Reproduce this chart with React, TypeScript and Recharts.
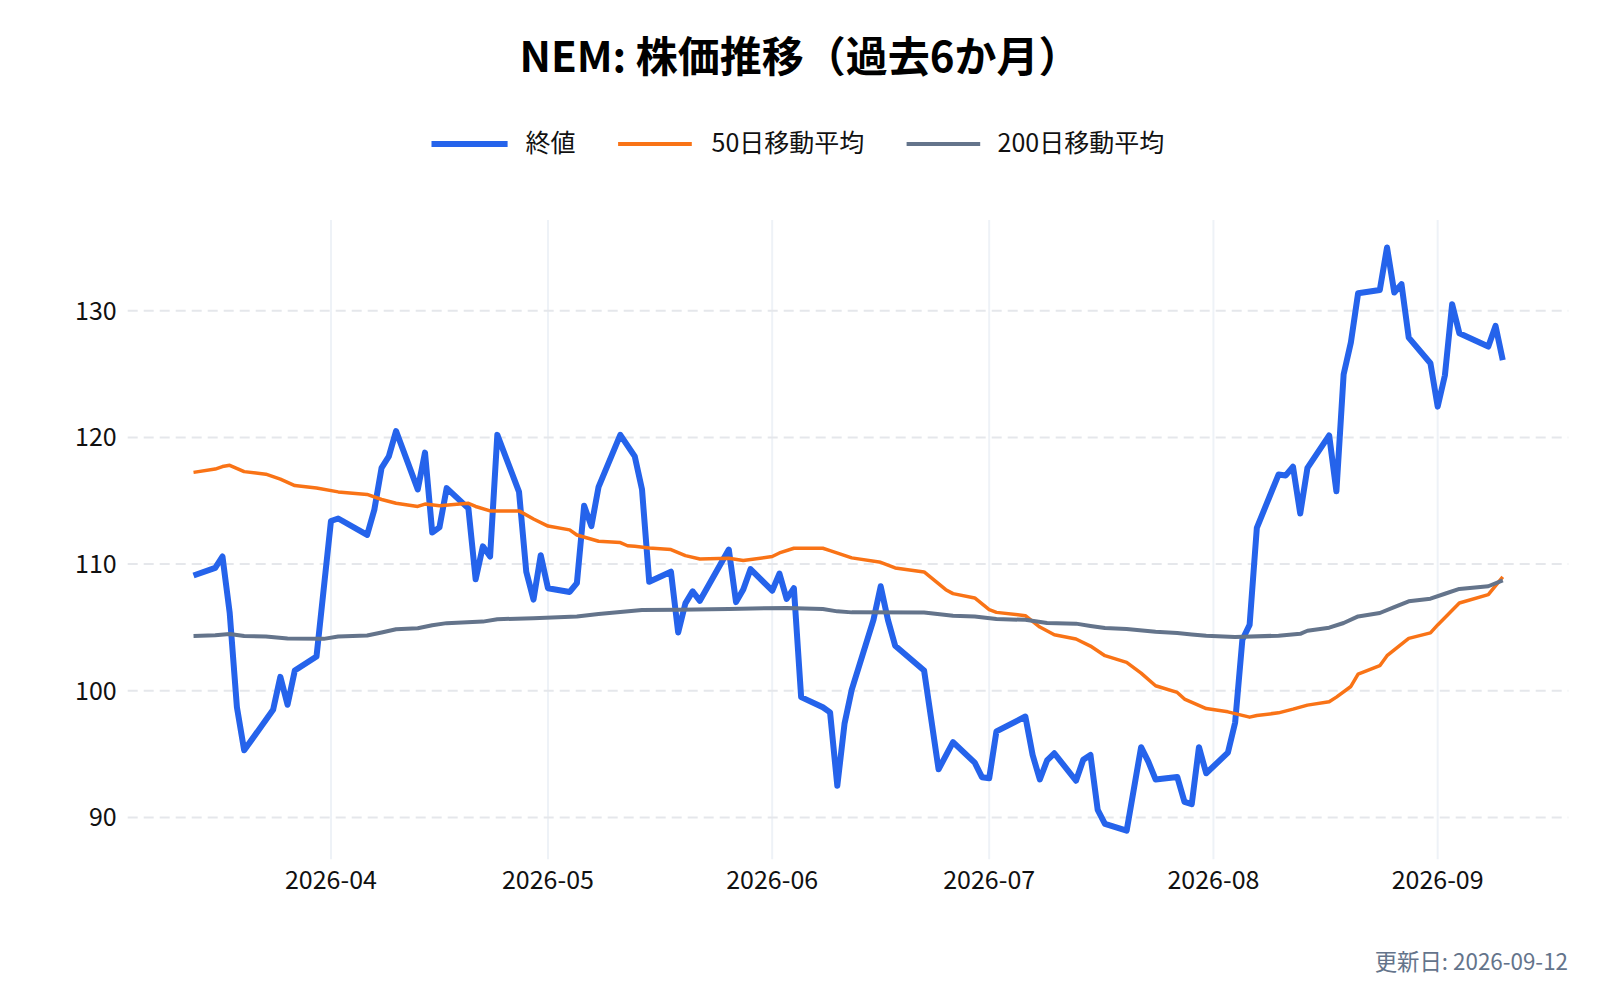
import React from 'react';
import { LineChart, Line, XAxis, YAxis, CartesianGrid } from 'recharts';

// 終値（営業日ごとの折れ点）
const closeDates = [
  '2026-03-13', '2026-03-16', '2026-03-17', '2026-03-18', '2026-03-19', '2026-03-20', '2026-03-24',
  '2026-03-25', '2026-03-26', '2026-03-27', '2026-03-30', '2026-04-01', '2026-04-02', '2026-04-06',
  '2026-04-07', '2026-04-08', '2026-04-09', '2026-04-10', '2026-04-13', '2026-04-14', '2026-04-15',
  '2026-04-16', '2026-04-17', '2026-04-20', '2026-04-21', '2026-04-22', '2026-04-23', '2026-04-24',
  '2026-04-27', '2026-04-28', '2026-04-29', '2026-04-30', '2026-05-01', '2026-05-04', '2026-05-05',
  '2026-05-06', '2026-05-07', '2026-05-08', '2026-05-11', '2026-05-13', '2026-05-14', '2026-05-15',
  '2026-05-18', '2026-05-19', '2026-05-20', '2026-05-21', '2026-05-22', '2026-05-26', '2026-05-27',
  '2026-05-28', '2026-05-29', '2026-06-01', '2026-06-02', '2026-06-03', '2026-06-04', '2026-06-05',
  '2026-06-08', '2026-06-09', '2026-06-10', '2026-06-11', '2026-06-12', '2026-06-15', '2026-06-16',
  '2026-06-17', '2026-06-18', '2026-06-22', '2026-06-24', '2026-06-26', '2026-06-29', '2026-06-30',
  '2026-07-01', '2026-07-02', '2026-07-06', '2026-07-07', '2026-07-08', '2026-07-09', '2026-07-10',
  '2026-07-13', '2026-07-14', '2026-07-15', '2026-07-16', '2026-07-17', '2026-07-20', '2026-07-22',
  '2026-07-23', '2026-07-24', '2026-07-27', '2026-07-28', '2026-07-29', '2026-07-30', '2026-07-31',
  '2026-08-03', '2026-08-04', '2026-08-05', '2026-08-06', '2026-08-07', '2026-08-10', '2026-08-11',
  '2026-08-12', '2026-08-13', '2026-08-14', '2026-08-17', '2026-08-18', '2026-08-19', '2026-08-20',
  '2026-08-21', '2026-08-24', '2026-08-25', '2026-08-26', '2026-08-27', '2026-08-28', '2026-08-31',
  '2026-09-01', '2026-09-02', '2026-09-03', '2026-09-04', '2026-09-08', '2026-09-09', '2026-09-10',
];
const closeValues = [
  109.1, 109.7, 110.6, 106.15, 98.7, 95.3, 98.5,
  101.1, 98.9, 101.6, 102.7, 113.4, 113.6, 112.3,
  114.3, 117.6, 118.5, 120.5, 115.9, 118.8, 112.5,
  112.9, 116.0, 114.4, 108.8, 111.4, 110.6, 120.2,
  115.7, 109.4, 107.2, 110.7, 108.1, 107.8, 108.5,
  114.6, 113.0, 116.1, 120.2, 118.5, 115.9, 108.6,
  109.4, 104.6, 106.9, 107.85, 107.1, 111.15, 107.0,
  108.0, 109.6, 107.9, 109.25, 107.25, 108.1, 99.5,
  98.7, 98.3, 92.5, 97.4, 100.1, 105.6, 108.25,
  105.6, 103.55, 101.6, 93.8, 95.95, 94.33, 93.18,
  93.1, 96.8, 97.97, 94.94, 93.0, 94.5, 95.07,
  92.9, 94.55, 94.94, 90.6, 89.5, 88.96, 95.55,
  94.41, 93.0, 93.2, 91.23, 91.05, 95.55, 93.49,
  95.12, 97.49, 104.03, 105.2, 112.86, 117.07, 117.0,
  117.68, 113.99, 117.6, 120.16, 115.75, 124.98, 127.49,
  131.38, 131.64, 134.99, 131.44, 132.1, 127.88, 125.85,
  122.43, 124.9, 130.51, 128.22, 127.17, 128.8, 126.1,
];

// 50日移動平均
const ma50Dates = [
  '2026-03-13', '2026-03-16', '2026-03-17', '2026-03-18', '2026-03-20', '2026-03-23', '2026-03-25',
  '2026-03-27', '2026-03-30', '2026-04-02', '2026-04-06', '2026-04-08', '2026-04-10', '2026-04-13',
  '2026-04-14', '2026-04-16', '2026-04-20', '2026-04-21', '2026-04-23', '2026-04-27', '2026-04-29',
  '2026-05-01', '2026-05-04', '2026-05-05', '2026-05-08', '2026-05-11', '2026-05-12', '2026-05-13',
  '2026-05-15', '2026-05-18', '2026-05-20', '2026-05-22', '2026-05-26', '2026-05-28', '2026-06-01',
  '2026-06-02', '2026-06-04', '2026-06-08', '2026-06-09', '2026-06-12', '2026-06-16', '2026-06-18',
  '2026-06-22', '2026-06-25', '2026-06-26', '2026-06-29', '2026-07-01', '2026-07-02', '2026-07-06',
  '2026-07-08', '2026-07-10', '2026-07-13', '2026-07-15', '2026-07-17', '2026-07-20', '2026-07-22',
  '2026-07-24', '2026-07-27', '2026-07-28', '2026-07-31', '2026-08-03', '2026-08-06', '2026-08-07',
  '2026-08-10', '2026-08-12', '2026-08-14', '2026-08-17', '2026-08-18', '2026-08-20', '2026-08-21',
  '2026-08-24', '2026-08-25', '2026-08-28', '2026-08-31', '2026-09-01', '2026-09-04', '2026-09-08',
  '2026-09-10',
];
const ma50Values = [
  117.24, 117.5, 117.7, 117.8, 117.3, 117.1, 116.7,
  116.2, 116.0, 115.7, 115.5, 115.1, 114.8, 114.55,
  114.74, 114.6, 114.8, 114.55, 114.2, 114.2, 113.56,
  113.0, 112.7, 112.3, 111.8, 111.7, 111.45, 111.4,
  111.28, 111.15, 110.67, 110.4, 110.46, 110.28, 110.6,
  110.88, 111.25, 111.25, 111.07, 110.49, 110.14, 109.7,
  109.38, 107.98, 107.67, 107.33, 106.4, 106.19, 105.93,
  105.03, 104.42, 104.09, 103.53, 102.77, 102.24, 101.4,
  100.4, 99.87, 99.35, 98.6, 98.34, 97.92, 98.05,
  98.26, 98.55, 98.87, 99.13, 99.5, 100.34, 101.32,
  101.98, 102.77, 104.14, 104.57, 105.2, 106.93, 107.59,
  108.99,
];

// 200日移動平均
const ma200Dates = [
  '2026-03-13', '2026-03-16', '2026-03-18', '2026-03-20', '2026-03-23', '2026-03-26', '2026-03-31',
  '2026-04-02', '2026-04-06', '2026-04-08', '2026-04-10', '2026-04-13', '2026-04-15', '2026-04-17',
  '2026-04-22', '2026-04-24', '2026-04-29', '2026-05-05', '2026-05-08', '2026-05-14', '2026-05-19',
  '2026-05-26', '2026-06-03', '2026-06-08', '2026-06-10', '2026-06-12', '2026-06-22', '2026-06-26',
  '2026-06-29', '2026-07-02', '2026-07-06', '2026-07-09', '2026-07-13', '2026-07-15', '2026-07-17',
  '2026-07-20', '2026-07-24', '2026-07-27', '2026-07-29', '2026-07-31', '2026-08-04', '2026-08-10',
  '2026-08-13', '2026-08-14', '2026-08-17', '2026-08-19', '2026-08-21', '2026-08-24', '2026-08-26',
  '2026-08-28', '2026-08-31', '2026-09-02', '2026-09-04', '2026-09-08', '2026-09-10',
];
const ma200Values = [
  104.33, 104.39, 104.49, 104.33, 104.28, 104.12, 104.1,
  104.28, 104.36, 104.6, 104.86, 104.94, 105.18, 105.34,
  105.46, 105.65, 105.73, 105.86, 106.07, 106.38, 106.4,
  106.46, 106.54, 106.46, 106.27, 106.19, 106.18, 105.93,
  105.87, 105.66, 105.6, 105.35, 105.3, 105.12, 104.96,
  104.88, 104.66, 104.56, 104.45, 104.35, 104.25, 104.35,
  104.5, 104.74, 104.98, 105.35, 105.87, 106.14, 106.61,
  107.06, 107.27, 107.66, 108.04, 108.25, 108.72,
];

const monthTicks = ['2026-04-01', '2026-05-01', '2026-06-01', '2026-07-01', '2026-08-01', '2026-09-01'];
const yTicks = [90, 100, 110, 120, 130];

const FONT = "'Noto Sans CJK JP', 'Noto Sans', sans-serif";
const BLUE = '#2563EB';
const ORANGE = '#F97316';
const SLATE = '#64748B';

const toTs = (d: string) => Date.parse(d.length === 10 ? d + 'T00:00:00Z' : d);
const build = (dates: string[], values: number[]) => dates.map((d, i) => ({ t: toTs(d), v: values[i] }));

const closeData = build(closeDates, closeValues);
const ma50Data = build(ma50Dates, ma50Values);
const ma200Data = build(ma200Dates, ma200Values);

const xDomain = [toTs('2026-03-03T21:36:00Z'), toTs('2026-09-19T01:26:00Z')];

const fmtMonth = (t: number) => {
  const d = new Date(t);
  return `${d.getUTCFullYear()}-${String(d.getUTCMonth() + 1).padStart(2, '0')}`;
};

const legendItems = [
  { label: '終値', color: BLUE, width: 6, x1: 431.5, x2: 507.6, tx: 525.5 },
  { label: '50日移動平均', color: ORANGE, width: 4, x1: 618.1, x2: 691.8, tx: 711.5 },
  { label: '200日移動平均', color: SLATE, width: 4, x1: 906.6, x2: 980.2, tx: 997.5 },
];

export default function App() {
  return (
    <div style={{ position: 'absolute', left: 0, top: 0, width: 1600, height: 1000, background: '#fff', fontFamily: FONT }}>
      <LineChart width={1600} height={1000} margin={{ top: 220, right: 31.7, bottom: 100.7, left: 67.7 }}>
        <CartesianGrid horizontal={false} syncWithTicks stroke="#EEF2F7" strokeWidth={2} />
        <CartesianGrid vertical={false} syncWithTicks stroke="#E5E7EB" strokeWidth={2} strokeDasharray="10 6" />
        <XAxis
          dataKey="t"
          type="number"
          domain={xDomain}
          allowDataOverflow
          ticks={monthTicks.map(toTs)}
          tickFormatter={fmtMonth}
          height={40}
          axisLine={false}
          tickLine={false}
          tickSize={0}
          tickMargin={12.4}
          tick={{ fontSize: 25, fill: '#111', fontFamily: FONT }}
        />
        <YAxis
          type="number"
          domain={[86.7, 137.16]}
          allowDataOverflow
          ticks={yTicks}
          width={60}
          axisLine={false}
          tickLine={false}
          tickSize={0}
          tickMargin={11}
          tick={{ fontSize: 25, fill: '#111', fontFamily: FONT }}
        />
        <Line data={closeData} dataKey="v" type="linear" stroke={BLUE} strokeWidth={6} dot={false} strokeLinejoin="round" isAnimationActive={false} />
        <Line data={ma50Data} dataKey="v" type="linear" stroke={ORANGE} strokeWidth={3.5} dot={false} strokeLinejoin="round" isAnimationActive={false} />
        <Line data={ma200Data} dataKey="v" type="linear" stroke={SLATE} strokeWidth={4} dot={false} strokeLinejoin="round" isAnimationActive={false} />
      </LineChart>
      <svg width={1600} height={1000} style={{ position: 'absolute', left: 0, top: 0, pointerEvents: 'none' }}>
        <text x={800} y={71.5} textAnchor="middle" fontSize={42} fontWeight={700} fill="#000" fontFamily={FONT}>
          NEM: 株価推移（過去6か月）
        </text>
        {legendItems.map((item) => (
          <g key={item.label}>
            <line x1={item.x1} x2={item.x2} y1={144} y2={144} stroke={item.color} strokeWidth={item.width} />
            <text x={item.tx} y={151.7} fontSize={25} fill="#111" fontFamily={FONT}>{item.label}</text>
          </g>
        ))}
        <text x={1568} y={970} textAnchor="end" fontSize={22.4} fill={SLATE} fontFamily={FONT}>
          更新日: 2026-09-12
        </text>
      </svg>
    </div>
  );
}
